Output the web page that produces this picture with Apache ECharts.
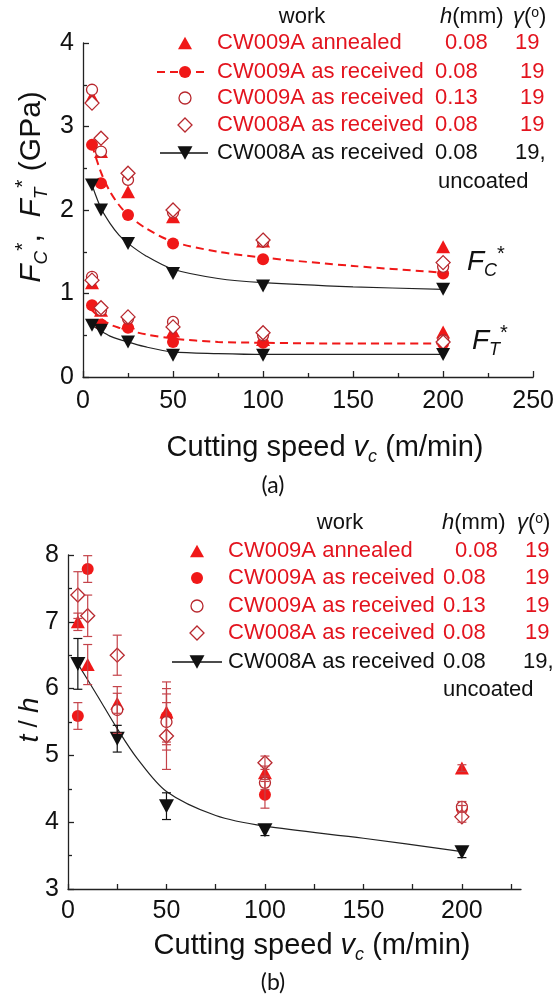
<!DOCTYPE html>
<html><head><meta charset="utf-8">
<script src="https://cdn.jsdelivr.net/npm/echarts@6/dist/echarts.min.js"></script>
<style>html,body{margin:0;padding:0;background:#fff}#c{width:557px;height:1002px}</style>
</head><body><div id="c"></div>
<script>
// ---------- data: panel (a) cutting forces ----------
const speeds = [5, 10, 25, 50, 100, 200];
const fcAnnealed   = [3.36, 2.70, 2.22, 1.92, 1.63, 1.56];
const ftAnnealed   = [1.13, 0.80, 0.65, 0.55, 0.45, 0.54];
const fcRec008     = [2.78, 2.32, 1.94, 1.60, 1.41, 1.24];
const ftRec008     = [0.86, 0.63, 0.59, 0.42, 0.41, 0.40];
const fcRec013     = [3.44, 2.70, 2.36, 1.97, 1.62, 1.32];
const ftRec013     = [1.20, 0.80, 0.70, 0.66, 0.50, 0.44];
const fcCW008      = [3.28, 2.86, 2.44, 2.00, 1.64, 1.37];
const ftCW008      = [1.16, 0.83, 0.72, 0.60, 0.53, 0.42];
const fcUncoated   = [2.30, 2.00, 1.60, 1.24, 1.09, 1.05];
const ftUncoated   = [0.62, 0.56, 0.42, 0.26, 0.26, 0.27];
// fitted curves
const fitX        = [5, 10, 15, 20, 25, 35, 50, 75, 100, 150, 200];
const fitFcRed    = [2.78, 2.45, 2.22, 2.06, 1.94, 1.78, 1.62, 1.50, 1.43, 1.33, 1.25];
const fitFtRed    = [0.80, 0.70, 0.63, 0.59, 0.56, 0.51, 0.46, 0.42, 0.41, 0.40, 0.40];
const fitFcBlack  = [2.30, 2.02, 1.84, 1.70, 1.60, 1.45, 1.29, 1.18, 1.13, 1.08, 1.05];
const fitFtBlack  = [0.62, 0.55, 0.49, 0.45, 0.42, 0.36, 0.30, 0.28, 0.27, 0.27, 0.27];

// ---------- data: panel (b) chip thickness ratio ----------
const tAnnX = [5, 10, 25, 50, 100, 200];
const tAnnY = [7.00, 6.36, 5.78, 5.65, 4.74, 4.81];
const tAnnE = [0.13, 0.30, 0.15, 0.45, 0.10, 0.05];
const tRec8X = [5, 10, 50, 100, 200];
const tRec8Y = [5.59, 7.79, 5.58, 4.41, 4.20];
const tRec8E = [0.20, 0.20, 0.42, 0.20, 0.05];
const tRec13X = [25, 50, 100, 200];
const tRec13Y = [5.68, 5.50, 4.59, 4.23];
const tRec13E = [0.35, 0.42, 0.10, 0.08];
const t008X = [5, 10, 25, 50, 100, 200];
const t008Y = [7.40, 7.09, 6.50, 5.29, 4.89, 4.08];
const t008E = [0.35, 0.31, 0.30, 0.50, 0.10, 0.08];
const tUncX = [5, 25, 50, 100, 200];
const tUncY = [6.37, 5.25, 4.24, 3.88, 3.55];
const tUncE = [0.38, 0.20, 0.20, 0.08, 0.08];
const fitTX = [5, 15, 25, 35, 50, 75, 100, 150, 200];
const fitTY = [6.37, 5.89, 5.40, 4.96, 4.46, 4.10, 3.94, 3.76, 3.56];

const xTicksA = [0, 50, 100, 150, 200, 250];
const xTicksB = [0, 50, 100, 150, 200];
const xMinorB = [0, 25, 50, 75, 100, 125, 150, 175, 200, 225];

// legend text
const legendNames = ['CW009A annealed', 'CW009A as received', 'CW009A as received', 'CW008A as received', 'CW008A as received'];
const legendH = ['0.08', '0.08', '0.13', '0.08', '0.08'];
const legendG = ['19', '19', '19', '19', '19,'];

// ---------- styling ----------
const RED = '#f01818', DRED = '#b8282e', TRED = '#e3141e', BLK = '#111', EBR = '#c4434a';
const FONT = '"Liberation Sans", Arial, sans-serif';

function pairs(xs, ys) { return xs.map((x, i) => [x, ys[i]]); }
function triples(xs, ys, es) { return xs.map((x, i) => [x, ys[i], es[i]]); }

const chart = echarts.init(document.getElementById('c'));

function axisBase() {
  return {
    type: 'value',
    axisLine: { show: true, onZero: false, lineStyle: { color: '#222', width: 1.3 } },
    axisTick: { show: true, inside: true, length: 6, lineStyle: { color: '#222', width: 1.3 } },
    minorTick: { show: true, splitNumber: 2, length: 4, lineStyle: { color: '#222', width: 1.3 } },
    splitLine: { show: false },
    axisLabel: { color: BLK, fontSize: 25, fontFamily: FONT, margin: 9 }
  };
}

function errSeries(name, xi, yi, data, color) {
  return {
    name, type: 'custom', xAxisIndex: xi, yAxisIndex: yi, data, z: 6,
    renderItem: function (params, api) {
      const x = api.value(0), y = api.value(1), e = api.value(2);
      const t = api.coord([x, y + e]), b = api.coord([x, y - e]);
      const w = 4.5;
      const st = { stroke: color, lineWidth: 1.2 };
      return { type: 'group', children: [
        { type: 'line', shape: { x1: t[0], y1: t[1], x2: b[0], y2: b[1] }, style: st },
        { type: 'line', shape: { x1: t[0] - w, y1: t[1], x2: t[0] + w, y2: t[1] }, style: st },
        { type: 'line', shape: { x1: b[0] - w, y1: b[1], x2: b[0] + w, y2: b[1] }, style: st }
      ]};
    }
  };
}

const openStyle = { color: '#fff', borderColor: DRED, borderWidth: 1.3, opacity: 1 };

function scatter(name, xi, data, symbol, size, itemStyle, rotate, z) {
  return { name, type: 'scatter', xAxisIndex: xi, yAxisIndex: xi, data, symbol,
    symbolSize: size, symbolRotate: rotate || 0, itemStyle: Object.assign({ opacity: 1 }, itemStyle),
    z: z || 4, animation: false };
}
function fit(name, xi, data, color, width, type) {
  return { name, type: 'line', xAxisIndex: xi, yAxisIndex: xi, data, smooth: 0.3,
    showSymbol: false, symbol: 'none', lineStyle: { color, width, type }, z: 3, animation: false };
}

// ---------- graphic helpers ----------
function txt(x, y, text, opts) {
  opts = opts || {};
  return { type: 'text', x, y, rotation: opts.rot || 0, z: 10, silent: true,
    style: { x: 0, y: 0, text, fill: opts.fill || BLK,
      font: (opts.italic ? 'italic ' : '') + (opts.size || 22) + 'px ' + FONT,
      textAlign: opts.align || 'left', textVerticalAlign: 'middle', rich: opts.rich } };
}
function tri(x, y, s, color, down) {
  const h = s * 0.9;
  const pts = down ? [[x - s / 2, y - h / 2], [x + s / 2, y - h / 2], [x, y + h / 2]]
                   : [[x - s / 2, y + h / 2], [x + s / 2, y + h / 2], [x, y - h / 2]];
  return { type: 'polygon', z: 10, shape: { points: pts }, style: { fill: color } };
}
function circ(x, y, r, fill, stroke) {
  return { type: 'circle', z: 10, shape: { cx: x, cy: y, r }, style: { fill: fill || 'none', stroke: stroke || null, lineWidth: 1.3 } };
}
function diam(x, y, s, stroke) {
  return { type: 'polygon', z: 10, shape: { points: [[x, y - s / 2], [x + s / 2, y], [x, y + s / 2], [x - s / 2, y]] },
    style: { fill: 'none', stroke, lineWidth: 1.3 } };
}
function seg(x1, y1, x2, y2, color, w, dash) {
  return { type: 'line', z: 9, shape: { x1, y1, x2, y2 }, style: { stroke: color, lineWidth: w, lineDash: dash || null } };
}

const headRich = {
  i: { fontStyle: 'italic', fontSize: 22, fontFamily: FONT, fill: BLK },
  n: { fontSize: 22, fontFamily: FONT, fill: BLK },
  s: { fontSize: 14, fontFamily: FONT, fill: BLK, verticalAlign: 'top' }
};

function legendBlock(cfg) {
  const out = [];
  out.push(txt(cfg.workX, cfg.headY, 'work', { align: 'center', size: 22 }));
  out.push(txt(cfg.hX, cfg.headY, '{i|h}{n|(mm)}', { rich: headRich }));
  out.push(txt(cfg.gX, cfg.headY, '{i|γ}{n|(}{s|o}{n|)}', { rich: headRich }));
  const rows = cfg.rows;
  for (let i = 0; i < 5; i++) {
    const col = i === 4 ? BLK : TRED;
    out.push(txt(cfg.nameX, rows[i], legendNames[i], { fill: col }));
    out.push(txt(cfg.hVals[i], rows[i], legendH[i], { fill: col }));
    out.push(txt(cfg.gVals[i], rows[i], legendG[i], { fill: col }));
  }
  out.push(txt(cfg.uncX, cfg.uncY, 'uncoated', {}));
  const mx = cfg.markX;
  out.push(tri(mx, rows[0], 14, RED, false));
  if (cfg.dashed) out.push(seg(cfg.dashed[0], rows[1], cfg.dashed[1], rows[1], RED, 2, [8, 5]));
  out.push(circ(mx, rows[1], 6, RED));
  out.push(circ(mx, rows[2], 6, null, DRED));
  out.push(diam(mx, rows[3], 14, DRED));
  out.push(seg(cfg.solid[0], rows[4], cfg.solid[1], rows[4], BLK, 1.3));
  out.push(tri(mx, rows[4], 15, BLK, true));
  return out;
}

const subRich = {
  f: { fontStyle: 'italic', fontSize: 30, fontFamily: FONT, fill: BLK, lineHeight: 38, verticalAlign: 'middle' },
  n: { fontSize: 30, fontFamily: FONT, fill: BLK, lineHeight: 38, verticalAlign: 'middle' },
  b: { fontStyle: 'italic', fontSize: 19, fontFamily: FONT, fill: BLK, lineHeight: 38, verticalAlign: 'bottom' },
  t: { fontSize: 21, fontFamily: FONT, fill: BLK, lineHeight: 38, verticalAlign: 'top' }
};
const annRich = {
  f: { fontStyle: 'italic', fontSize: 28, fontFamily: FONT, fill: BLK, lineHeight: 36, verticalAlign: 'middle' },
  b: { fontStyle: 'italic', fontSize: 18, fontFamily: FONT, fill: BLK, lineHeight: 36, verticalAlign: 'bottom' },
  t: { fontSize: 20, fontFamily: FONT, fill: BLK, lineHeight: 36, verticalAlign: 'top' },
  n: { fontSize: 26, fontFamily: FONT, fill: BLK, lineHeight: 36, verticalAlign: 'middle' }
};
const xRich = {
  n: { fontSize: 29, fontFamily: FONT, fill: BLK, lineHeight: 36, verticalAlign: 'middle' },
  f: { fontStyle: 'italic', fontSize: 29, fontFamily: FONT, fill: BLK, lineHeight: 36, verticalAlign: 'middle' },
  b: { fontStyle: 'italic', fontSize: 18, fontFamily: FONT, fill: BLK, lineHeight: 36, verticalAlign: 'bottom' }
};

const graphics = [].concat(
  legendBlock({ headY: 17, workX: 302, hX: 440, gX: 513, nameX: 217,
    rows: [43, 72, 98, 125, 153], hVals: [445, 435, 435, 435, 435], gVals: [515, 520, 520, 520, 515],
    uncX: 438, uncY: 182, markX: 185, dashed: [157, 205], solid: [160, 208] }),
  legendBlock({ headY: 523, workX: 340, hX: 442, gX: 517, nameX: 228,
    rows: [551, 578, 606, 633, 662], hVals: [455, 443, 443, 443, 443], gVals: [525, 525, 525, 525, 523],
    uncX: 443, uncY: 690, markX: 197, dashed: null, solid: [172, 222] }),
  [
    txt(32, 187, '{f|F}{b|C}{t|*}{n|,  }{f|F}{b|T}{t|*}{n| (GPa)}', { rich: subRich, align: 'center', rot: Math.PI / 2 }),
    txt(30, 720, '{f|t}{n| / }{f|h}', { rich: annRich, align: 'center', rot: Math.PI / 2 }),
    txt(467, 262, '{f|F}{b|C}{t|*}', { rich: annRich }),
    txt(472, 341, '{f|F}{b|T}{t|*}', { rich: annRich }),
    txt(325, 448, '{n|Cutting speed }{f|v}{b|c}{n| (m/min)}', { rich: xRich, align: 'center' }),
    txt(312, 946, '{n|Cutting speed }{f|v}{b|c}{n| (m/min)}', { rich: xRich, align: 'center' }),
    { type: 'text', x: 273, y: 486, z: 10, style: { x: 0, y: 0, text: '(a)', font: '23px Lato, "Open Sans", sans-serif', fill: BLK, textAlign: 'center', textVerticalAlign: 'middle' } },
    { type: 'text', x: 273, y: 983, z: 10, style: { x: 0, y: 0, text: '(b)', font: '23px Lato, "Open Sans", sans-serif', fill: BLK, textAlign: 'center', textVerticalAlign: 'middle' } }
  ]
);

const xA = Object.assign(axisBase(), { gridIndex: 0, min: 0, max: 250, interval: 50 });
const yA = Object.assign(axisBase(), { gridIndex: 0, min: 0, max: 4, interval: 1 });
const xB = Object.assign(axisBase(), { gridIndex: 1, min: 0, max: 230, interval: 50 });
xB.minorTick = { show: false };
xB.axisTick = Object.assign({}, xB.axisTick, { customValues: xMinorB, length: 5 });
xB.axisLabel = Object.assign({}, xB.axisLabel, { customValues: xTicksB, margin: 10 });
const yB = Object.assign(axisBase(), { gridIndex: 1, min: 3, max: 8, interval: 1 });
xA.axisLabel = Object.assign({}, xA.axisLabel, { customValues: xTicksA, margin: 12 });

const A = 0, B = 1;
const series = [
  fit('fitFcRed', A, pairs(fitX, fitFcRed), RED, 2, [8, 5]),
  fit('fitFtRed', A, pairs(fitX, fitFtRed), RED, 2, [8, 5]),
  fit('fitFcBlack', A, pairs(fitX, fitFcBlack), '#222', 1.2, 'solid'),
  fit('fitFtBlack', A, pairs(fitX, fitFtBlack), '#222', 1.2, 'solid'),
  scatter('annealed', A, pairs(speeds, fcAnnealed).concat(pairs(speeds, ftAnnealed)), 'triangle', [14, 13], { color: RED }, 0, 4),
  scatter('rec008', A, pairs(speeds, fcRec008).concat(pairs(speeds, ftRec008)), 'circle', 12, { color: RED }, 0, 4),
  scatter('rec013', A, pairs(speeds, fcRec013).concat(pairs(speeds, ftRec013)), 'circle', 11, openStyle, 0, 5),
  scatter('cw008', A, pairs(speeds, fcCW008).concat(pairs(speeds, ftCW008)), 'diamond', [14, 14], openStyle, 0, 5),
  scatter('uncoated', A, pairs(speeds, fcUncoated).concat(pairs(speeds, ftUncoated)), 'triangle', [14, 13], { color: BLK }, 180, 5),

  fit('fitT', B, pairs(fitTX, fitTY), '#222', 1.2, 'solid'),
  scatter('tAnn', B, pairs(tAnnX, tAnnY), 'triangle', [14, 13], { color: RED }, 0, 4),
  scatter('tRec8', B, pairs(tRec8X, tRec8Y), 'circle', 12, { color: RED }, 0, 4),
  scatter('tRec13', B, pairs(tRec13X, tRec13Y), 'circle', 11, openStyle, 0, 5),
  scatter('t008', B, pairs(t008X, t008Y), 'diamond', [14, 14], openStyle, 0, 5),
  scatter('tUnc', B, pairs(tUncX, tUncY), 'triangle', [15, 14], { color: BLK }, 180, 5),
  errSeries('eAnn', B, B, triples(tAnnX, tAnnY, tAnnE), EBR),
  errSeries('eRec8', B, B, triples(tRec8X, tRec8Y, tRec8E), EBR),
  errSeries('eRec13', B, B, triples(tRec13X, tRec13Y, tRec13E), EBR),
  errSeries('e008', B, B, triples(t008X, t008Y, t008E), EBR),
  errSeries('eUnc', B, B, triples(tUncX, tUncY, tUncE), BLK)
];

chart.setOption({
  animation: false,
  backgroundColor: '#fff',
  grid: [
    { left: 83, top: 43, width: 451, height: 334 },
    { left: 68, top: 555, width: 453, height: 334 }
  ],
  xAxis: [xA, xB],
  yAxis: [yA, yB],
  series,
  graphic: graphics
});
</script>
</body></html>
